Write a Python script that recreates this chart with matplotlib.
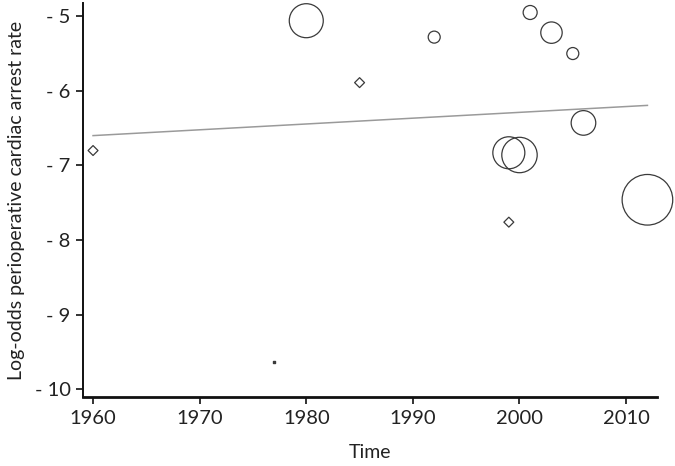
import matplotlib
matplotlib.use("Agg")
import matplotlib.pyplot as plt
from matplotlib.ticker import FuncFormatter
import numpy as np

# Study data: year, log-odds, marker type, bubble radius (px, proportional to weight)
circle_year = [1980, 1992, 2001, 2003, 2005, 2006, 1999, 2000, 2012]
circle_logodds = [-5.06, -5.28, -4.95, -5.22, -5.50, -6.43, -6.83, -6.86, -7.46]
circle_radius = [17, 6, 7, 10.7, 6, 12.3, 16, 17.7, 25.3]

diamond_year = [1960, 1985, 1999]
diamond_logodds = [-6.80, -5.89, -7.76]

dot_year = [1977]
dot_logodds = [-9.63]

# Meta-regression line endpoints
fit_year = [1960, 2012]
fit_logodds = [-6.60, -6.195]

xticks = [1960, 1970, 1980, 1990, 2000, 2010]
yticks = [-10, -9, -8, -7, -6, -5]

plt.rcParams['font.family'] = ['Lato', 'DejaVu Sans']

fig = plt.figure(figsize=(6.75, 4.66), dpi=100)
ax = fig.add_axes([0.123, 0.147, 0.851, 0.847])

px2pt = 72 / 100
sizes = [(2 * r * px2pt) ** 2 for r in circle_radius]

ax.plot(fit_year, fit_logodds, color='#9a9a9a', lw=1.1, zorder=1)
ax.scatter(circle_year, circle_logodds, s=sizes, facecolors='none',
           edgecolors='#3a3a3a', linewidths=0.9, zorder=2, clip_on=False)
ax.scatter(diamond_year, diamond_logodds, s=(7 * px2pt) ** 2, marker='D',
           facecolors='none', edgecolors='#3a3a3a', linewidths=0.9, zorder=2,
           clip_on=False)
ax.scatter(dot_year, dot_logodds, s=0.8, marker='s', color='#3a3a3a', zorder=2)

ax.set_xlim(1959.06, 2012.94)
ax.set_ylim(-10.11, -4.82)
ax.set_xticks(xticks)
ax.set_yticks(yticks)
ax.yaxis.set_major_formatter(FuncFormatter(lambda v, p: f"- {abs(v):g}"))

for s in ['top', 'right']:
    ax.spines[s].set_visible(False)
ax.spines['left'].set_linewidth(1.4)
ax.spines['bottom'].set_linewidth(2.0)
ax.spines['left'].set_color('#111111')
ax.spines['bottom'].set_color('#111111')
ax.tick_params(direction='out', length=5, width=1.2, colors='#111111',
               labelsize=14.5, pad=4)
ax.tick_params(axis='x', pad=4)
for lab in ax.get_xticklabels() + ax.get_yticklabels():
    lab.set_color('#222222')

ax.set_xlabel('Time', fontsize=14, labelpad=12, color='#222222')
ax.set_ylabel('Log-odds perioperative cardiac arrest rate', fontsize=14,
              labelpad=7, color='#222222')

fig.savefig('out.png', dpi=100)
